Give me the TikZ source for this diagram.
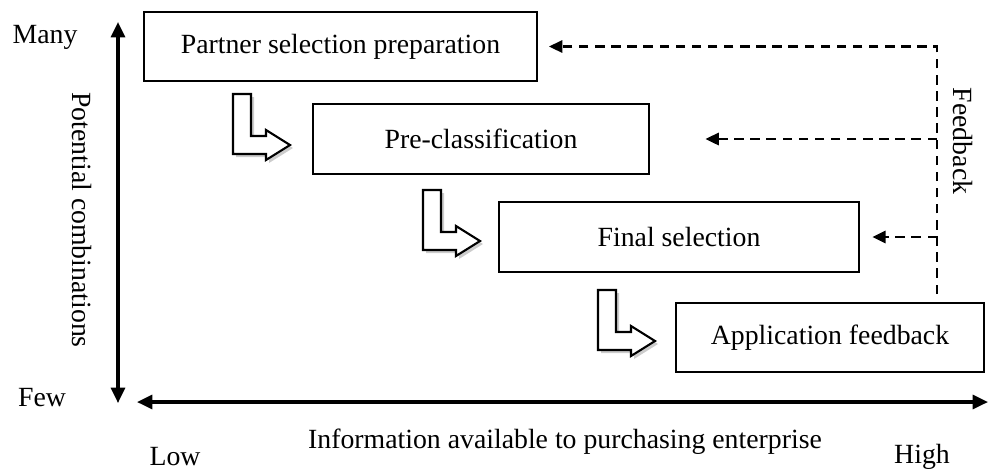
\documentclass[tikz,border=0pt]{standalone}
\usepackage{fontspec}
\setmainfont{Liberation Serif}
\usepackage{tikz}
\usetikzlibrary{arrows.meta,calc,positioning}

\begin{document}
\begin{tikzpicture}[x=0.36pt,y=-0.36pt,
    font=\fontsize{10}{12}\selectfont,
    stage/.style={draw,line width=0.6pt,inner sep=0pt},
    axis/.style={line width=1.1pt,{Triangle[length=5.5pt,width=5pt]}-{Triangle[length=5.5pt,width=5pt]}},
    fb/.style={dash pattern=on 3.4pt off 2.4pt,line width=0.9pt},
    fbtip/.style={-{Triangle[length=4.8pt,width=4.4pt]}},
    bendshadow/.style={fill=gray!40,draw=none},
    bendarrow/.style={fill=white,draw,line width=0.75pt}]
    \useasboundingbox (0,0) rectangle (998,471);

    \node[stage,minimum width=141.5pt,minimum height=24.8pt] (prep) at (340.5,46.5) {Partner selection preparation};
    \node[stage,minimum width=121pt,minimum height=25.2pt] (precls) at (481,139) {Pre-classification};
    \node[stage,minimum width=129.6pt,minimum height=25.2pt] (final) at (679,237) {Final selection};
    \node[stage,minimum width=110.9pt,minimum height=24.8pt] (appfb) at (830,337.5) {Application feedback};

    \foreach \bx/\by in {233/94,423/190,598/290}{
        \fill[bendshadow] (\bx+3,\by+3) -- ++(18,0) -- ++(0,42) -- ++(15,0) -- ++(0,-6)
            -- ++(24,15) -- ++(-24,15) -- ++(0,-6) -- ++(-33,0) -- cycle;
        \draw[bendarrow] (\bx,\by) -- ++(18,0) -- ++(0,42) -- ++(15,0) -- ++(0,-6)
            -- ++(24,15) -- ++(-24,15) -- ++(0,-6) -- ++(-33,0) -- cycle;
    }

    \coordinate (axtop) at (118,22);
    \coordinate (axbot) at (118,403);
    \coordinate (axleft) at (137,402);
    \coordinate (axright) at (988,402);
    \draw[axis] (axbot) -- (axtop);
    \draw[axis] (axleft) -- (axright);

    \node (many) at (45,37) {Many};
    \node (few) at (42,398) {Few};
    \node (low) at (175,457) {Low};
    \node (high) at (922,457) {High};
    \node (info) at (565,442) {Information available to purchasing enterprise};
    \node[rotate=-90] (potential) at (82,220) {Potential combinations};
    \node[rotate=-90] (feedback) at (963,141) {Feedback};

    \coordinate (fbbot) at (937,294);
    \draw[fb,fbtip] (fbbot) |- ([xshift=4pt]prep.east);
    \draw[fb,fbtip] (fbbot |- precls.east) -- ([xshift=20pt]precls.east);
    \draw[fb,fbtip] (fbbot |- final.east) -- ([xshift=4.5pt]final.east);
\end{tikzpicture}
\end{document}
